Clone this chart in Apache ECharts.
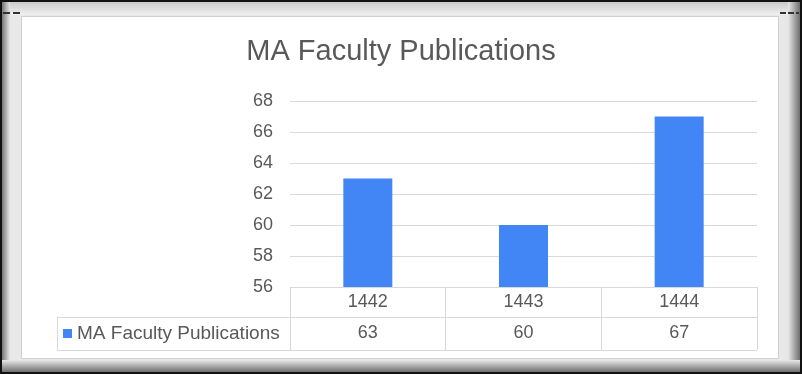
<!DOCTYPE html>
<html>
<head>
<meta charset="utf-8">
<script src="https://cdn.jsdelivr.net/npm/echarts@6/dist/echarts.min.js"></script>
<style>
html,body{margin:0;padding:0;background:#fff;}
#c{width:802px;height:374px;}
</style>
</head>
<body>
<div id="c"></div>
<script>
var title = 'MA Faculty Publications';
var seriesName = 'MA Faculty Publications';
var categories = ['1442', '1443', '1444'];
var values = [63, 60, 67];
var yTicks = [56, 58, 60, 62, 64, 66, 68];

var W = 802, H = 374;
var gL = 290, gR = 757, gT = 101, gB = 287;
var rowH1 = 30, rowH2 = 33;
var legL = 57;
var lineC = '#d9d9d9';
var txtC = '#595959';
var font = 'Liberation Sans, Arial, sans-serif';

var chart = echarts.init(document.getElementById('c'), null, {renderer: 'canvas'});

function grad(x0, y0, x1, y1, c0, c1) {
  return new echarts.graphic.LinearGradient(x0, y0, x1, y1, [{offset: 0, color: c0}, {offset: 1, color: c1}]);
}

var y1 = gB + rowH1, y2 = y1 + rowH2;

var frame = [
  {type: 'rect', z: -10, silent: true, shape: {x: 0, y: 0, width: W, height: H}, style: {fill: '#e8e8e8'}},
  {type: 'rect', z: -9, silent: true, shape: {x: 0, y: 0, width: W, height: 15}, style: {fill: grad(0, 0, 0, 1, '#c4c4c4', '#f0f0f0')}},
  {type: 'rect', z: -9, silent: true, shape: {x: 0, y: 0, width: 10, height: H}, style: {fill: grad(0, 0, 1, 0, '#5a5a5a', '#e8e8e8')}},
  {type: 'rect', z: -9, silent: true, shape: {x: 788, y: 0, width: 14, height: H}, style: {fill: grad(0, 0, 1, 0, '#e8e8e8', '#5a5a5a')}},
  {type: 'rect', z: -9, silent: true, shape: {x: 0, y: 360, width: W, height: 14}, style: {fill: grad(0, 0, 0, 1, '#e8e8e8', '#5a5a5a')}},
  {type: 'rect', z: -8, silent: true, shape: {x: 1, y: 1, width: W - 2, height: H - 2}, style: {fill: null, stroke: '#111', lineWidth: 2}},
  {type: 'line', z: -8, silent: true, shape: {x1: 3, y1: 13, x2: 20, y2: 13}, style: {stroke: '#333', lineWidth: 2, lineDash: [7, 3]}},
  {type: 'line', z: -8, silent: true, shape: {x1: 780, y1: 13, x2: 799, y2: 13}, style: {stroke: '#333', lineWidth: 2, lineDash: [6, 2]}},
  {type: 'rect', z: -7, silent: true, shape: {x: 21.5, y: 16.5, width: 757, height: 342}, style: {fill: '#ffffff', stroke: '#d0d0d0', lineWidth: 1}},
  // table lines
  {type: 'line', z: 5, silent: true, shape: {x1: legL, y1: y1 + 0.5, x2: gR, y2: y1 + 0.5}, style: {stroke: lineC, lineWidth: 1}},
  {type: 'line', z: 5, silent: true, shape: {x1: legL, y1: y2 + 0.5, x2: gR, y2: y2 + 0.5}, style: {stroke: lineC, lineWidth: 1}},
  {type: 'line', z: 5, silent: true, shape: {x1: legL + 0.5, y1: y1, x2: legL + 0.5, y2: y2 + 1}, style: {stroke: lineC, lineWidth: 1}}
];

var option = {
  animation: false,
  backgroundColor: 'transparent',
  textStyle: {fontFamily: font},
  title: {
    text: title, left: 'center', top: 37, padding: 0,
    textStyle: {fontSize: 29, fontWeight: 'normal', color: txtC, fontFamily: font}
  },
  legend: {
    data: [seriesName], left: 63, top: 324, padding: 0,
    icon: 'rect', itemWidth: 9, itemHeight: 9,
    textStyle: {fontSize: 19, color: txtC, fontFamily: font, lineHeight: 19}
  },
  grid: {left: gL, right: W - gR, top: gT, bottom: H - gB, containLabel: false},
  xAxis: [{
    type: 'category', data: categories, position: 'bottom',
    axisLine: {show: true, lineStyle: {color: lineC, width: 1}},
    axisTick: {show: true, alignWithLabel: false, length: rowH1 + rowH2, lineStyle: {color: lineC, width: 1}},
    axisLabel: {fontSize: 18, color: txtC, fontFamily: font, margin: 6, lineHeight: 18, interval: 0}
  }, {
    type: 'category', data: categories, position: 'bottom', offset: rowH1,
    axisLine: {show: false}, axisTick: {show: false},
    axisLabel: {fontSize: 18, color: txtC, fontFamily: font, margin: 7, lineHeight: 18, interval: 0,
      formatter: function (v, i) { return String(values[i]); }}
  }],
  yAxis: {
    type: 'value', min: yTicks[0], max: yTicks[yTicks.length - 1], interval: 2,
    axisLine: {show: false}, axisTick: {show: false},
    axisLabel: {fontSize: 18, color: txtC, fontFamily: font, margin: 17},
    splitLine: {lineStyle: {color: lineC, width: 1}}
  },
  series: [{
    name: seriesName, type: 'bar', data: values, barWidth: 49,
    itemStyle: {color: '#4285F4'}
  }],
  graphic: frame
};
chart.setOption(option);
</script>
</body>
</html>
